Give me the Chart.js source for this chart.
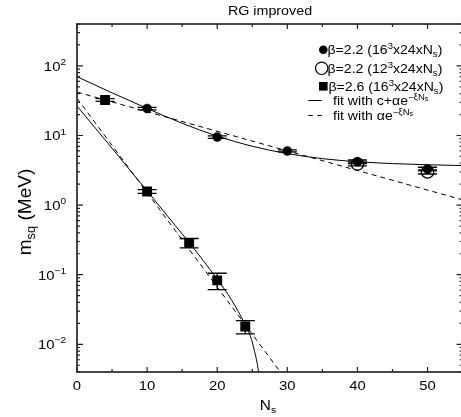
<!DOCTYPE html>
<html><head><meta charset="utf-8">
<script src="https://cdn.jsdelivr.net/npm/chart.js@4/dist/chart.umd.min.js"></script>
<style>html,body{margin:0;padding:0;overflow:hidden;background:#fff}canvas{display:block}</style>
</head><body>
<canvas id="c" width="470" height="417"></canvas>
<script>
// ---- data ----
const circ22X = [10, 20, 30, 40, 50];
const circ22Y = [24.4, 9.5, 6.0, 4.2, 3.3];
const circ22Err = [1.0, 0.4, 0.2, 0.25, 0.2];
const open22X = [40, 50];
const open22Y = [3.9, 3.0];
const open22Err = [0.25, 0.2];
const sq26X = [4, 10, 16, 20, 24];
const sq26Y = [32.4, 1.57, 0.287, 0.083, 0.018];
const sq26Err = [1.5, 0.1, 0.044, 0.022, 0.0039];
// fit curves
const fitC22X = [0, 5, 10, 15, 20, 25, 30, 35, 40, 45, 50, 55];
const fitC22Y = [70, 41, 24.5, 15, 9.8, 7.0, 5.5, 4.65, 4.2, 3.95, 3.8, 3.7];
const fitE22X = [0, 55];
const fitE22Y = [42, 1.19];
const fitC26X = [0, 4, 8, 10, 14, 16, 20, 22, 24, 24.9, 25.25, 25.6, 25.9, 26.1];
const fitC26Y = [26.5, 8.7, 2.8, 1.6, 0.51, 0.29, 0.086, 0.044, 0.019, 0.0117, 0.0085, 0.006, 0.004, 0.003];
const fitE26X = [0, 29];
const fitE26Y = [34.3, 0.004];
// ticks
const xMajor = [0, 10, 20, 30, 40, 50];
const xMinor = [5, 15, 25, 35, 45];
const xLabels = ['0', '10', '20', '30', '40', '50'];
const yMajor = [0.01, 0.1, 1, 10, 100];
const yExp = ['\u22122', '\u22121', '0', '1', '2'];
const titleText = 'RG improved';
const xTitle = [{t: 'N'}, {t: 's', k: 'sub'}];
const yTitle = [{t: 'm'}, {t: 'sq', k: 'sub'}, {t: ' (MeV)'}];
const legendLabels = [
  [{t: '\u03b2=2.2 (16'}, {t: '3', k: 'sup'}, {t: 'x24xN'}, {t: 's', k: 'sub'}, {t: ')'}],
  [{t: '\u03b2=2.2 (12'}, {t: '3', k: 'sup'}, {t: 'x24xN'}, {t: 's', k: 'sub'}, {t: ')'}],
  [{t: '\u03b2=2.6 (16'}, {t: '3', k: 'sup'}, {t: 'x24xN'}, {t: 's', k: 'sub'}, {t: ')'}],
  [{t: 'fit with c+\u03b1e'}, {t: '\u2212\u03beN', k: 'sup'}, {t: 's', k: 'ss'}],
  [{t: 'fit with \u03b1e'}, {t: '\u2212\u03beN', k: 'sup'}, {t: 's', k: 'ss'}]
];

const FAM = "'Liberation Sans', Arial, Helvetica, sans-serif";
const SX = 1.1;

function rich(ctx, parts, x, y, opt) {
  const sz = opt.size;
  let total = 0; const m = [];
  for (const p of parts) {
    const s = (p.k === 'sup' || p.k === 'sub') ? sz * 0.68 : p.k === 'ss' ? sz * 0.5 : sz;
    ctx.font = s + 'px ' + FAM;
    const w = ctx.measureText(p.t).width;
    m.push({s, w}); total += w;
  }
  ctx.save();
  ctx.translate(x, y);
  ctx.scale(opt.sx || 1, 1);
  if (opt.rot) ctx.rotate(opt.rot);
  let cx = opt.align === 'right' ? -total : opt.align === 'center' ? -total / 2 : 0;
  ctx.fillStyle = '#000'; ctx.textBaseline = 'alphabetic'; ctx.textAlign = 'left';
  parts.forEach((p, i) => {
    const dy = p.k === 'sup' ? -sz * 0.42 : p.k === 'sub' ? sz * 0.22 : p.k === 'ss' ? -sz * 0.3 : 0;
    ctx.font = m[i].s + 'px ' + FAM;
    ctx.fillText(p.t, cx, dy);
    cx += m[i].w;
  });
  ctx.restore();
}

function errBars(ctx, chart, xs, ys, es) {
  const xs_ = chart.scales.x, ys_ = chart.scales.y;
  xs.forEach((v, i) => {
    const px = xs_.getPixelForValue(v);
    const top = ys_.getPixelForValue(ys[i] + es[i]);
    const bot = ys_.getPixelForValue(ys[i] - es[i]);
    ctx.beginPath();
    ctx.moveTo(px, top); ctx.lineTo(px, bot);
    ctx.moveTo(px - 9.5, top); ctx.lineTo(px + 9.5, top);
    ctx.moveTo(px - 9.5, bot); ctx.lineTo(px + 9.5, bot);
    ctx.stroke();
  });
}

const deco = {
  id: 'deco',
  beforeDatasetsDraw(chart) {
    const ctx = chart.ctx, a = chart.chartArea;
    ctx.save();
    ctx.beginPath(); ctx.rect(a.left, a.top, a.right - a.left, a.bottom - a.top); ctx.clip();
    ctx.strokeStyle = '#000'; ctx.lineWidth = 1.3;
    errBars(ctx, chart, circ22X, circ22Y, circ22Err);
    errBars(ctx, chart, open22X, open22Y, open22Err);
    errBars(ctx, chart, sq26X, sq26Y, sq26Err);
    ctx.restore();
  },
  afterDraw(chart) {
    const ctx = chart.ctx, a = chart.chartArea, sx = chart.scales.x, sy = chart.scales.y;
    ctx.save();
    // frame
    ctx.strokeStyle = '#333'; ctx.lineWidth = 1.8;
    ctx.strokeRect(a.left, a.top, a.right - a.left, a.bottom - a.top);
    ctx.lineWidth = 1.2; ctx.strokeStyle = '#222';
    ctx.beginPath();
    xMajor.forEach(v => { const p = sx.getPixelForValue(v);
      ctx.moveTo(p, a.bottom); ctx.lineTo(p, a.bottom - 5);
      ctx.moveTo(p, a.top); ctx.lineTo(p, a.top + 5); });
    xMinor.forEach(v => { const p = sx.getPixelForValue(v);
      ctx.moveTo(p, a.bottom); ctx.lineTo(p, a.bottom - 3);
      ctx.moveTo(p, a.top); ctx.lineTo(p, a.top + 3); });
    yMajor.forEach(v => { const p = sy.getPixelForValue(v);
      ctx.moveTo(a.left, p); ctx.lineTo(a.left + 6, p);
      ctx.moveTo(a.right, p); ctx.lineTo(a.right - 6, p); });
    [0.001].concat(yMajor).forEach(v => {
      for (let d = 2; d <= 9; d++) {
        const val = v * d;
        if (val < sy.min || val > sy.max) continue;
        const p = sy.getPixelForValue(val);
        ctx.moveTo(a.left, p); ctx.lineTo(a.left + 3, p);
        ctx.moveTo(a.right, p); ctx.lineTo(a.right - 3, p);
      }
    });
    ctx.stroke();
    // tick labels
    xMajor.forEach((v, i) => rich(ctx, [{t: xLabels[i]}], sx.getPixelForValue(v), 389.5, {size: 13.5, sx: SX, align: 'center'}));
    yMajor.forEach((v, i) => rich(ctx, [{t: '10'}, {t: yExp[i], k: 'sup'}], 66, sy.getPixelForValue(v) + 4.8, {size: 13.5, sx: SX, align: 'right'}));
    // titles
    rich(ctx, [{t: titleText}], 270, 15, {size: 13, sx: SX, align: 'center'});
    rich(ctx, xTitle, 268, 410, {size: 14, sx: SX, align: 'center'});
    rich(ctx, yTitle, 31, 212, {size: 19, sx: 1, align: 'center', rot: -Math.PI / 2});
    // legend
    ctx.fillStyle = '#000'; ctx.strokeStyle = '#000';
    ctx.beginPath(); ctx.arc(323.3, 49.7, 4.3, 0, Math.PI * 2); ctx.fill();
    ctx.lineWidth = 1.2;
    ctx.beginPath(); ctx.arc(321.7, 68.3, 6.2, 0, Math.PI * 2); ctx.stroke();
    ctx.fillRect(319, 82, 8.6, 8.6);
    ctx.lineWidth = 1;
    ctx.beginPath(); ctx.moveTo(308.3, 100.5); ctx.lineTo(321.7, 100.5); ctx.stroke();
    ctx.setLineDash([4.5, 4.5]);
    ctx.beginPath(); ctx.moveTo(308.3, 115.5); ctx.lineTo(322, 115.5); ctx.stroke();
    ctx.setLineDash([]);
    const lx = [327.5, 327.5, 328.5, 333, 333];
    const ly = [54.3, 73.3, 91, 105, 120];
    legendLabels.forEach((parts, i) => rich(ctx, parts, lx[i], ly[i], {size: 12.8, sx: SX, align: 'left'}));
    ctx.restore();
  }
};

const pts = (xs, ys) => xs.map((v, i) => ({x: v, y: ys[i]}));
const lineDs = (xs, ys, dash, curve) => ({
  data: pts(xs, ys), showLine: true, pointRadius: 0, borderColor: '#000', borderWidth: 1,
  borderDash: dash, cubicInterpolationMode: curve ? 'monotone' : 'default', fill: false
});

new Chart(document.getElementById('c').getContext('2d'), {
  type: 'scatter',
  data: {datasets: [
    lineDs(fitC22X, fitC22Y, [], true),
    lineDs(fitE22X, fitE22Y, [5, 4], false),
    lineDs(fitC26X, fitC26Y, [], true),
    lineDs(fitE26X, fitE26Y, [5, 4], false),
    {data: pts(circ22X, circ22Y), pointStyle: 'circle', pointRadius: 4.5, pointBorderWidth: 0.5,
     backgroundColor: '#000', borderColor: '#000', showLine: false},
    {data: pts(open22X, open22Y), pointStyle: 'circle', pointRadius: 6.2, pointBorderWidth: 1.2,
     backgroundColor: 'rgba(0,0,0,0)', borderColor: '#000', showLine: false},
    {data: pts(sq26X, sq26Y), pointStyle: 'rect', pointRadius: 7, pointBorderWidth: 0,
     backgroundColor: '#000', borderColor: '#000', showLine: false}
  ]},
  options: {
    responsive: false, animation: false, devicePixelRatio: 1,
    layout: {padding: {left: 77, right: 5, top: 24, bottom: 45}},
    plugins: {legend: {display: false}, tooltip: {enabled: false}, title: {display: false}},
    scales: {
      x: {type: 'linear', min: 0, max: 55, display: false},
      y: {type: 'logarithmic', min: 0.004, max: 400, display: false}
    }
  },
  plugins: [deco]
});
</script>
</body></html>
